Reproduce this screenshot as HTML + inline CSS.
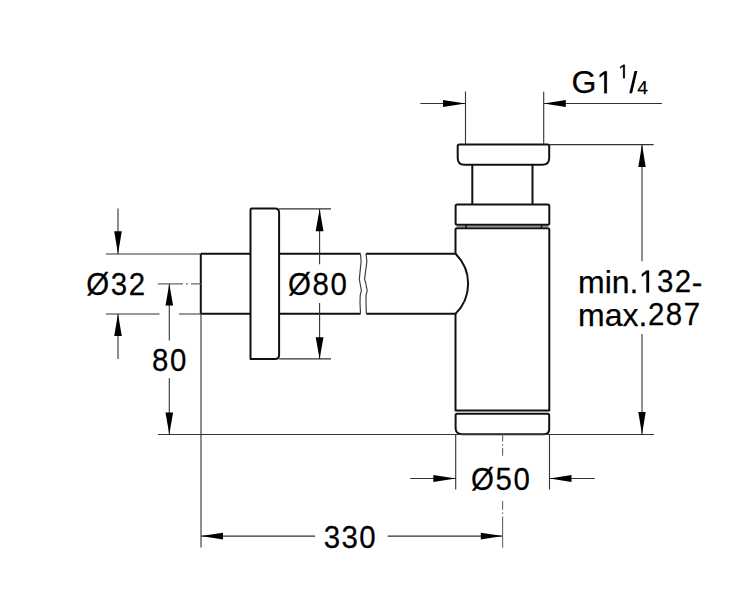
<!DOCTYPE html>
<html><head><meta charset="utf-8"><style>
html,body{margin:0;padding:0;background:#fff;width:742px;height:600px;overflow:hidden}
svg{display:block}
text{font-family:"Liberation Sans",sans-serif;fill:#000;stroke:#000;stroke-width:0.25}
</style></head><body>
<svg width="742" height="600" viewBox="0 0 742 600">
<g fill="none" stroke="#111" stroke-width="2" stroke-linejoin="round">
  <!-- cap -->
  <path d="M459.2,144.5 H547.7 Q549.2,144.5 549.2,146 V158 Q549.2,164.8 542.4,164.8 H464.5 Q457.7,164.8 457.7,158 V146 Q457.7,144.5 459.2,144.5 Z"/>
  <!-- stem -->
  <path d="M472.3,164.8 V204.5 M532.5,164.8 V204.5"/>
  <!-- ring -->
  <path d="M457.1,204.5 H547.8 Q549.3,204.5 549.3,206 V223.3 Q549.3,224.8 547.8,224.8 H457.1 Q455.6,224.8 455.6,223.3 V206 Q455.6,204.5 457.1,204.5 Z"/>
  <!-- body -->
  <path d="M455.5,253.7 V229.8 Q455.5,228.3 457,228.3 H547.8 Q549.3,228.3 549.3,229.8 V410.6 H455.5 V313.8"/>
  <!-- lower ring -->
  <path d="M457.2,413.8 H547.7 Q549.2,413.8 549.2,415.3 V429 Q549.2,434.2 544,434.2 H462 Q455.6,434.2 455.6,428 V415.3 Q455.6,413.8 457.1,413.8 Z"/>
  <!-- pipe -->
  <path d="M279.1,253.7 H360.5 M279.1,313.8 H360.5 M366,253.7 H455.5 M366.3,313.8 H455.5"/>
  <path d="M455.5,253.7 A42.1,42.1 0 0 1 455.5,313.8"/>
  <!-- stub -->
  <path d="M200.8,253.7 H250.5 M200.8,313.8 H250.5 M200.8,253.7 V313.8"/>
  <!-- flange -->
  <path d="M250.5,358.9 V209.8 Q250.5,208.6 251.7,208.6 H275 Q279.1,208.6 279.1,212.8 V354.9 Q279.1,358.9 275,358.9 Z"/>
</g>
<!-- gray between ring and body -->
<path d="M456.5,226.6 H548.5" stroke="#8a8a8a" stroke-width="1.3"/>
<path d="M466,225 V228 M541.5,225 V228" stroke="#111" stroke-width="1.5"/>
<!-- break lines -->
<g fill="none" stroke="#3a3a3a" stroke-width="1.15" stroke-linejoin="round">
  <path d="M360.5,253.7 L361.1,261.7 L360.2,270.4 L359.3,279.1 L360,283 L361.4,290.7 L360.2,295.4 L360,302.4 L360.5,313.8"/>
  <path d="M366,253.7 L366.9,261.7 L365.7,270.4 L364.6,279.1 L365.7,283 L367.2,290.7 L366,295.4 L366,302.4 L366.3,313.8"/>
</g>
<!-- dimension lines -->
<g fill="none" stroke="#333" stroke-width="1.1">
  <!-- G1 1/4 -->
  <path d="M465.5,91.5 V144.5 M543.7,91.8 V144.5 M420.3,103.5 H465.3 M543.7,103.5 H662"/>
  <!-- right vertical -->
  <path d="M549.2,144.6 H653.6 M642,144.5 V261.3 M642,334 V434.5"/>
  <!-- baseline -->
  <path d="M157.9,434.5 H653.9"/>
  <!-- Ø32 -->
  <path d="M118,208.6 V254 M118,359 V314 M105.9,254 H200.8 M105.9,314 H159.5 M179,314 H200.8"/>
  <!-- center line -->
  <path d="M158,283.9 H183 M186,283.9 H188 M191,283.9 H200.8" stroke="#666"/>
  <!-- 80 -->
  <path d="M169.3,283.9 V340.4 M169.3,378.3 V434.5"/>
  <!-- Ø80 -->
  <path d="M319.6,208.9 V264.2 M319.6,303 V358.9 M279,208.9 H331 M279,358.9 H331"/>
  <!-- Ø50 -->
  <path d="M455.7,434.5 V489.4 M549.5,434.5 V489.4 M410.2,478.5 H455.7 M549.5,478.5 H594.6"/>
  <!-- 330 -->
  <path d="M201,313.8 V547.5 M201,536.1 H315.1 M387.7,536.1 H502.6"/>
  <!-- center vertical -->
  <path d="M502.6,434.5 V441.5 M502.6,444 V445.5 M502.6,448 V455.8 M502.6,501 V509.7 M502.6,512.5 V514 M502.6,516.5 V547.8" stroke="#666"/>
</g>
<!-- arrowheads -->
<g fill="#000" stroke="none">
  <path d="M465.5,103.5 L443,100 L443,107 Z"/>
  <path d="M543.7,103.5 L565.8,100 L565.8,107 Z"/>
  <path d="M642,144.5 L638.3,167 L645.7,167 Z"/>
  <path d="M642,434.5 L638.3,412.1 L645.7,412.1 Z"/>
  <path d="M118,254 L114.2,231.3 L121.8,231.3 Z"/>
  <path d="M118,314 L114.2,336 L121.8,336 Z"/>
  <path d="M169.3,283.9 L165.5,305.5 L173.1,305.5 Z"/>
  <path d="M169.3,434.5 L165.5,412.5 L173.1,412.5 Z"/>
  <path d="M319.6,208.9 L315.7,231.3 L323.5,231.3 Z"/>
  <path d="M319.6,358.9 L315.7,337.3 L323.5,337.3 Z"/>
  <path d="M455.7,478.5 L433.3,475 L433.3,482 Z"/>
  <path d="M549.5,478.5 L571.5,475 L571.5,482 Z"/>
  <path d="M201,536.1 L223,532.8 L223,539.4 Z"/>
  <path d="M502.6,536.1 L480.8,532.8 L480.8,539.4 Z"/>
</g>
<!-- texts -->
<defs><path id="one" d="M515,0 L515,1237 L197,1010 L197,1180 L530,1409 L696,1409 L696,0 Z"/></defs>
<g fill="#000">
<text x="85.250" y="295.5" font-size="32" transform="matrix(0.92,0,0,1,7.817,0)">&#216;</text>
<text x="110.141" y="295.5" font-size="32" transform="matrix(0.92,0,0,1,9.516,0)">3</text>
<text x="127.938" y="295.5" font-size="32" transform="matrix(0.92,0,0,1,10.947,0)">2</text>
<text x="287.000" y="295" font-size="32" transform="matrix(0.92,0,0,1,23.957,0)">&#216;</text>
<text x="311.891" y="295" font-size="32" transform="matrix(0.92,0,0,1,25.663,0)">8</text>
<text x="329.688" y="295" font-size="32" transform="matrix(0.92,0,0,1,27.087,0)">0</text>
<text x="151.400" y="371" font-size="32" transform="matrix(0.92,0,0,1,12.824,0)">8</text>
<text x="169.197" y="371" font-size="32" transform="matrix(0.92,0,0,1,14.248,0)">0</text>
<text x="470.000" y="490" font-size="32" transform="matrix(0.92,0,0,1,38.597,0)">&#216;</text>
<text x="494.891" y="490" font-size="32" transform="matrix(0.92,0,0,1,40.301,0)">5</text>
<text x="512.688" y="490" font-size="32" transform="matrix(0.92,0,0,1,41.727,0)">0</text>
<text x="323.000" y="547.8" font-size="32" transform="matrix(0.92,0,0,1,26.544,0)">3</text>
<text x="340.797" y="547.8" font-size="32" transform="matrix(0.92,0,0,1,27.968,0)">3</text>
<text x="358.594" y="547.8" font-size="32" transform="matrix(0.92,0,0,1,29.399,0)">0</text>
<text x="578.000" y="292.5" font-size="32" transform="matrix(1.0,0,0,1,0.000,0)">m</text>
<text x="604.656" y="292.5" font-size="32" transform="matrix(1.0,0,0,1,0.000,0)">i</text>
<text x="611.766" y="292.5" font-size="32" transform="matrix(1.0,0,0,1,0.000,0)">n</text>
<text x="629.562" y="292.5" font-size="32" transform="matrix(1.0,0,0,1,0.000,0)">.</text>
<use href="#one" stroke="#000" stroke-width="16.0" transform="matrix(0.92,0,0,1,51.634,0) translate(638.453,292.5) scale(0.015625,-0.015625)"/>
<text x="656.250" y="292.5" font-size="32" transform="matrix(0.92,0,0,1,53.204,0)">3</text>
<text x="674.047" y="292.5" font-size="32" transform="matrix(0.92,0,0,1,54.636,0)">2</text>
<text x="691.844" y="292.5" font-size="32" transform="matrix(1.0,0,0,1,0.000,0)">-</text>
<text x="578.000" y="325.5" font-size="32" transform="matrix(1.0,0,0,1,0.000,0)">m</text>
<text x="604.656" y="325.5" font-size="32" transform="matrix(1.0,0,0,1,0.000,0)">a</text>
<text x="622.453" y="325.5" font-size="32" transform="matrix(1.0,0,0,1,0.000,0)">x</text>
<text x="638.453" y="325.5" font-size="32" transform="matrix(1.0,0,0,1,0.000,0)">.</text>
<text x="647.344" y="325.5" font-size="32" transform="matrix(0.92,0,0,1,52.499,0)">2</text>
<text x="665.141" y="325.5" font-size="32" transform="matrix(0.92,0,0,1,53.923,0)">8</text>
<text x="682.938" y="325.5" font-size="32" transform="matrix(0.92,0,0,1,55.348,0)">7</text>
<text x="571.400" y="93.3" font-size="32" transform="matrix(1.0,0,0,1,0.000,0)">G</text>
<use href="#one" stroke="#000" stroke-width="16.0" transform="matrix(0.92,0,0,1,48.261,0) translate(596.291,93.3) scale(0.015625,-0.015625)"/>
<use href="#one" stroke="#000" stroke-width="26.3" transform="matrix(1.0,0,0,1,0.000,0) translate(618.200,78.2) scale(0.009521,-0.009521)"/>
<text x="637.340" y="93.5" font-size="19.2" transform="matrix(1.0,0,0,1,0.000,0)">4</text>

<path d="M629.3,93.2 L632.1,93.2 L637.3,70.9 L634.5,70.9 Z"/>
</g>
</svg>
</body></html>
